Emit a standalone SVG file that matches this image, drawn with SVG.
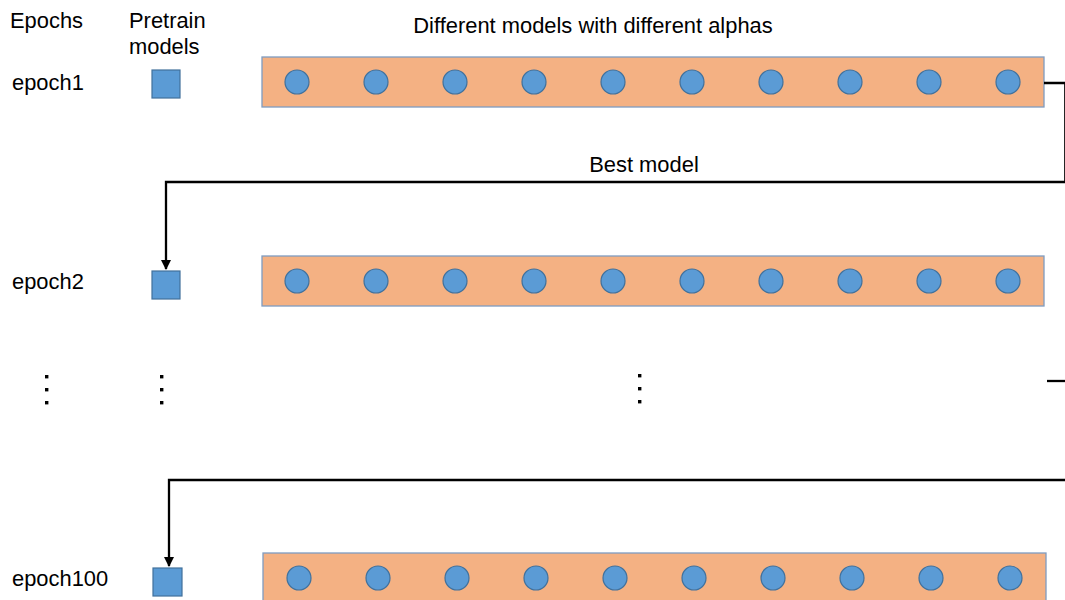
<svg xmlns="http://www.w3.org/2000/svg" width="1065" height="600" viewBox="0 0 1065 600">
  <style>
    .lbl { font-family: "Liberation Sans", Arial, sans-serif; font-size: 21.9px; fill: #000; }
    .mid { text-anchor: middle; }
    .bar { fill: #F4B183; stroke: #7F9CC0; stroke-width: 1.3; }
    .model { fill: #5B9BD5; stroke: #41719C; stroke-width: 1.2; }
    .link { fill: none; stroke: #000; stroke-width: 2.3; }
    .dot { fill: #000; }
  </style>
  <defs>
    <marker id="arrow" viewBox="0 0 10 10" refX="9" refY="5" markerWidth="4.5" markerHeight="4.5" orient="auto">
      <path d="M0,0 L10,5 L0,10 z" fill="#000"/>
    </marker>
    <g id="models">
      <circle class="model" cx="0" cy="0" r="12"/>
      <circle class="model" cx="79" cy="0" r="12"/>
      <circle class="model" cx="158" cy="0" r="12"/>
      <circle class="model" cx="237" cy="0" r="12"/>
      <circle class="model" cx="316" cy="0" r="12"/>
      <circle class="model" cx="395" cy="0" r="12"/>
      <circle class="model" cx="474" cy="0" r="12"/>
      <circle class="model" cx="553" cy="0" r="12"/>
      <circle class="model" cx="632" cy="0" r="12"/>
      <circle class="model" cx="711" cy="0" r="12"/>
    </g>
  </defs>

  <!-- column headers -->
  <g id="headers">
    <text class="lbl" x="10" y="28">Epochs</text>
    <text class="lbl" x="129" y="28">Pretrain</text>
    <text class="lbl" x="129" y="54">models</text>
    <text class="lbl mid" x="593" y="33">Different models with different alphas</text>
  </g>

  <!-- epoch 1 -->
  <g id="epoch1">
    <text class="lbl" x="12" y="90">epoch1</text>
    <rect class="model" x="152" y="70" width="28" height="28"/>
    <rect class="bar" x="262" y="57" width="782" height="50"/>
    <use href="#models" x="297" y="82"/>
  </g>

  <!-- epoch 2 -->
  <g id="epoch2">
    <text class="lbl" x="12" y="289">epoch2</text>
    <rect class="model" x="152" y="271" width="28" height="28"/>
    <rect class="bar" x="262" y="256" width="782" height="50"/>
    <use href="#models" x="297" y="281"/>
  </g>

  <!-- ellipsis between epoch 2 and epoch 100 -->
  <g id="ellipsis">
    <rect class="dot" x="45" y="375" width="3.4" height="3.4"/>
    <rect class="dot" x="45" y="388" width="3.4" height="3.4"/>
    <rect class="dot" x="45" y="401" width="3.4" height="3.4"/>
    <rect class="dot" x="160" y="375" width="3.4" height="3.4"/>
    <rect class="dot" x="160" y="388" width="3.4" height="3.4"/>
    <rect class="dot" x="160" y="401" width="3.4" height="3.4"/>
    <rect class="dot" x="638" y="374" width="3.4" height="3.4"/>
    <rect class="dot" x="638" y="387" width="3.4" height="3.4"/>
    <rect class="dot" x="638" y="400" width="3.4" height="3.4"/>
  </g>

  <!-- epoch 100 -->
  <g id="epoch100">
    <text class="lbl" x="12" y="586">epoch100</text>
    <rect class="model" x="153" y="568" width="29" height="28"/>
    <rect class="bar" x="263" y="553" width="783" height="52"/>
    <use href="#models" x="299" y="578"/>
  </g>

  <!-- best-model hand-off between epochs -->
  <g id="connectors">
    <path class="link" d="M1044,83 H1065.3 V182 H166 V269" marker-end="url(#arrow)"/>
    <text class="lbl mid" x="644" y="172">Best model</text>
    <path class="link" d="M1047,381 H1066"/>
    <path class="link" d="M1066,480 H169 V566" marker-end="url(#arrow)"/>
  </g>
</svg>
